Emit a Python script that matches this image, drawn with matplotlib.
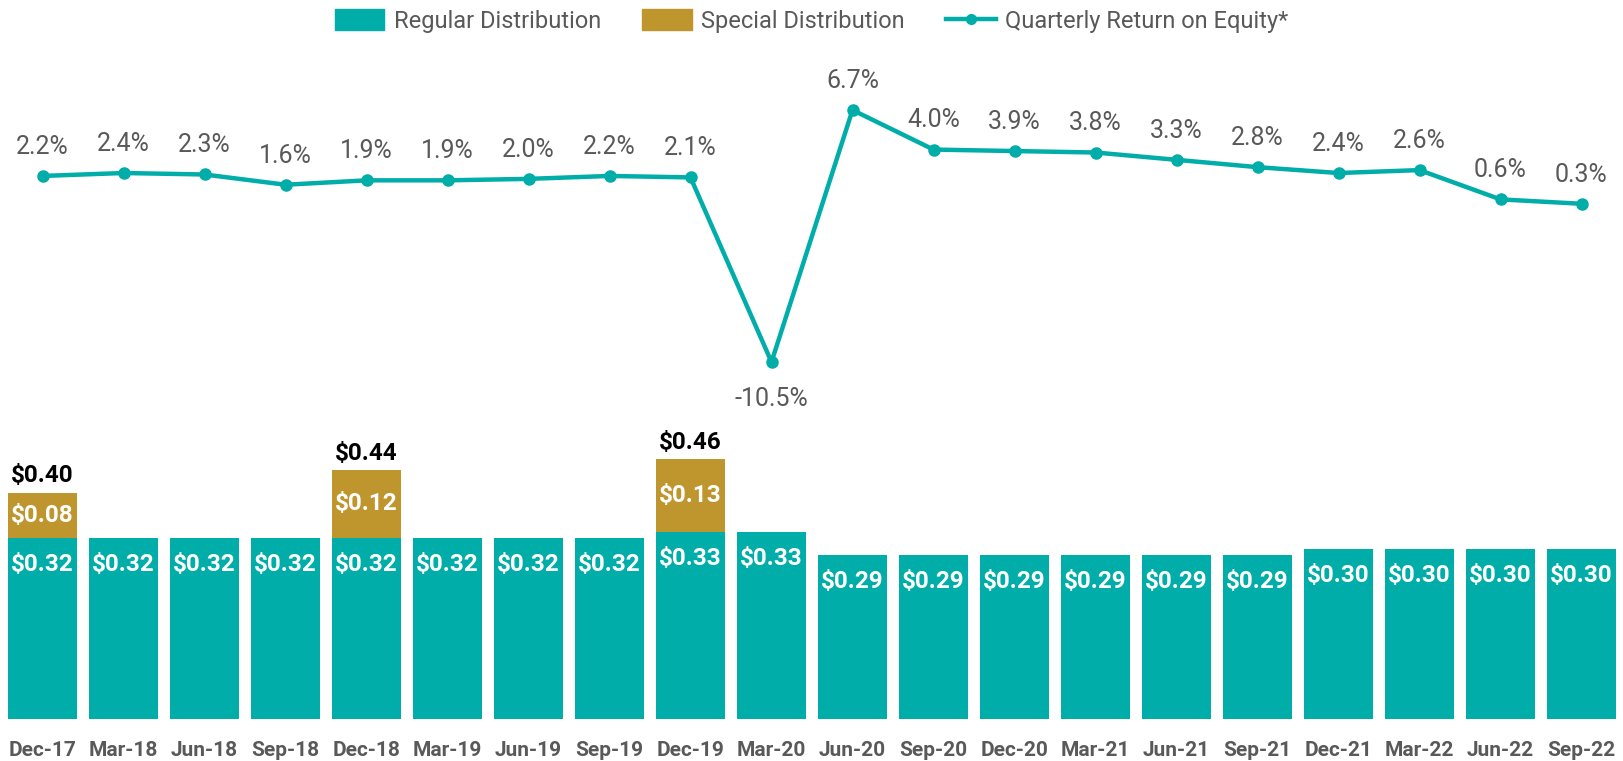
import matplotlib.pyplot as plt
from matplotlib.lines import Line2D
from matplotlib.patches import Patch
import numpy as np

plt.rcParams['font.family'] = ['Roboto', 'DejaVu Sans']

quarters = ['Dec-17', 'Mar-18', 'Jun-18', 'Sep-18', 'Dec-18', 'Mar-19', 'Jun-19', 'Sep-19', 'Dec-19', 'Mar-20',
            'Jun-20', 'Sep-20', 'Dec-20', 'Mar-21', 'Jun-21', 'Sep-21', 'Dec-21', 'Mar-22', 'Jun-22', 'Sep-22']
regular = [0.32, 0.32, 0.32, 0.32, 0.32, 0.32, 0.32, 0.32, 0.33, 0.33,
           0.29, 0.29, 0.29, 0.29, 0.29, 0.29, 0.30, 0.30, 0.30, 0.30]
special = [0.08, 0, 0, 0, 0.12, 0, 0, 0, 0.13, 0,
           0, 0, 0, 0, 0, 0, 0, 0, 0, 0]
roe = [2.2, 2.4, 2.3, 1.6, 1.9, 1.9, 2.0, 2.2, 2.1, -10.5,
       6.7, 4.0, 3.9, 3.8, 3.3, 2.8, 2.4, 2.6, 0.6, 0.3]

TEAL = '#00ADA8'
GOLD = '#BF962D'
GREY = '#595959'

W, H = 1623, 761
fig = plt.figure(figsize=(W / 100, H / 100), dpi=100)
# plot area in pixels: x 2..1622, y (from top) 40..719
ax = fig.add_axes([2 / W, (H - 719) / H, 1620 / W, 679 / H])
ax2 = ax.twinx()

x = np.arange(len(quarters))
reg = np.array(regular)
spc = np.array(special)

ax.bar(x, reg, width=0.85, color=TEAL, zorder=2)
ax.bar(x, spc, width=0.85, bottom=reg, color=GOLD, zorder=2)

for i in x:
    ax.annotate('$%.2f' % reg[i], (i, reg[i]), xytext=(0, -19), textcoords='offset points',
                ha='center', va='center', color='white', fontsize=17.5, fontweight='bold')
    if spc[i] > 0:
        ax.annotate('$%.2f' % spc[i], (i, reg[i] + spc[i] / 2), ha='center', va='center',
                    color='white', fontsize=17.5, fontweight='bold')
        ax.annotate('$%.2f' % (reg[i] + spc[i]), (i, reg[i] + spc[i]), xytext=(0, 12),
                    textcoords='offset points', ha='center', va='center', color='black',
                    fontsize=17.5, fontweight='bold')

ax.set_xlim(-0.5, len(quarters) - 0.5)
ax.set_ylim(0, 1.2)
ax.set_xticks(x)
ax.set_xticklabels(quarters, fontsize=15, fontweight='bold', color=GREY)
ax.tick_params(axis='x', length=0, pad=15.5)
ax.set_yticks([])

ax2.plot(x, roe, color=TEAL, lw=3.2, marker='o', ms=8, zorder=3)
for i, v in zip(x, roe):
    dy = -27 if v < 0 else 21
    ax2.annotate('%.1f%%' % v, (i, v), xytext=(0, dy), textcoords='offset points',
                 ha='center', va='center', color=GREY, fontsize=18)
ax2.set_ylim(-34.87, 11.48)
ax2.set_yticks([])

for a in (ax, ax2):
    for s in a.spines.values():
        s.set_visible(False)

handles = [Patch(color=TEAL), Patch(color=GOLD),
           Line2D([0], [0], color=TEAL, lw=3.2, marker='o', ms=7)]
labels = ['Regular Distribution', 'Special Distribution', 'Quarterly Return on Equity*']
leg = fig.legend(handles, labels, loc='center', bbox_to_anchor=(0.5, 1 - 21 / H), ncol=3, frameon=False,
                 fontsize=17, handlelength=2.1, handleheight=1.0, handletextpad=0.4, columnspacing=1.75)
for t in leg.get_texts():
    t.set_color(GREY)

fig.savefig('out.png', dpi=100)
